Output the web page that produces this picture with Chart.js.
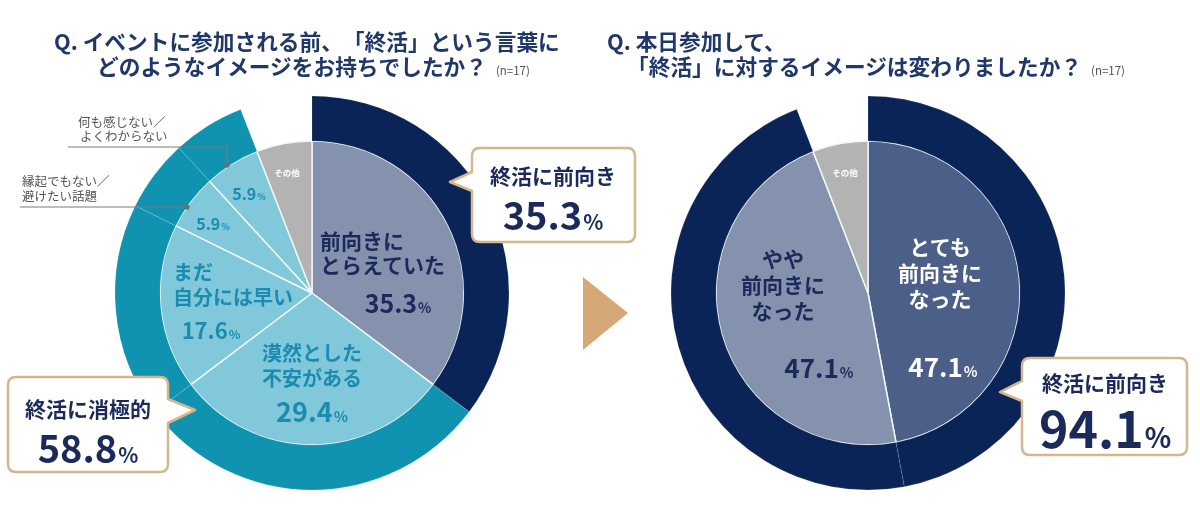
<!DOCTYPE html>
<html lang="ja">
<head>
<meta charset="utf-8">
<script src="https://cdn.jsdelivr.net/npm/chart.js@4.4.1/dist/chart.umd.min.js"></script>
<style>
  html, body { margin: 0; padding: 0; background: #fff; }
  body { width: 1200px; height: 507px; position: relative; overflow: hidden;
         font-family: "Noto Sans CJK JP", "Noto Sans", sans-serif; text-spacing-trim: space-all; }
  canvas { position: absolute; z-index: 1; }
  svg#deco { position: absolute; left: 0; top: 0; z-index: 2; }
  .t { position: absolute; white-space: nowrap; z-index: 3; line-height: 1; }
  .title { color: #1f3869; font-weight: 700; font-size: 21.7px; }
  .n { font-size: 11.5px; font-weight: 400; margin-left: 9px; color: #555; }
  .pct { font-size: 0.55em; margin-left: 1px; }
</style>
</head>
<body>
<canvas id="beforeChart" width="420" height="420" style="left:102px;top:83px"></canvas>
<canvas id="afterChart" width="420" height="420" style="left:658px;top:83px"></canvas>
<svg id="deco" width="1200" height="507"></svg>

<script>
// --- data ---
const beforeLabels = ['前向きにとらえていた', '漠然とした不安がある', 'まだ自分には早い', '縁起でもない／避けたい話題', '何も感じない／よくわからない', 'その他'];
const beforeValues = [35.3, 29.4, 17.6, 5.9, 5.9, 5.9];
const beforeGroupOf = [0, 1, 1, 1, 1, null];
const beforeGroupLabels = ['終活に前向き', '終活に消極的'];
const beforeGroupValues = [35.3, 58.8];

const afterLabels = ['とても前向きになった', 'やや前向きになった', 'その他'];
const afterValues = [47.1, 47.1, 5.9];
const afterGroupOf = [0, 0, null];
const afterGroupLabels = ['終活に前向き'];
const afterGroupValues = [94.1];

const titleBefore = ['Q. イベントに参加される前、「終活」という言葉に', 'どのようなイメージをお持ちでしたか？'];
const titleAfter = ['Q. 本日参加して、', '「終活」に対するイメージは変わりましたか？'];
const sampleNote = '(n=17)';

// --- colours ---
const NAVY = '#0b2457';
const TEAL = '#0f93b1';
const GREYBLUE = '#8592ad';
const LIGHTBLUE = '#80c8da';
const MIDBLUE = '#4b5f88';
const GREY = '#b3b3b3';
const TEXT_NAVY = '#1b2a5a';
const TEXT_TEAL = '#1b8cb0';
const TAN = '#d6b68d';

function makeChart(id, labels, values, groupOf, innerColors, ringColors) {
    return new Chart(document.getElementById(id), {
        type: 'doughnut',
        data: {
            labels: labels,
            datasets: [{
                data: values,
                weight: 45,
                backgroundColor: groupOf.map(g => g === null ? 'rgba(0,0,0,0)' : ringColors[g]),
                borderColor: groupOf.map(g => g === null ? 'rgba(0,0,0,0)' : 'rgba(255,255,255,0.14)'),
                borderWidth: groupOf.map(g => g === null ? 0 : 1)
            }, {
                data: values,
                weight: 152,
                backgroundColor: innerColors,
                borderColor: '#eef8fb',
                borderWidth: 1.5
            }]
        },
        options: {
            responsive: false,
            animation: false,
            events: [],
            radius: 197,
            cutout: 0,
            layout: { padding: 0 },
            plugins: { legend: { display: false }, tooltip: { enabled: false } }
        }
    });
}

makeChart('beforeChart', beforeLabels, beforeValues, beforeGroupOf,
    [GREYBLUE, LIGHTBLUE, LIGHTBLUE, LIGHTBLUE, LIGHTBLUE, GREY], [NAVY, TEAL]);
makeChart('afterChart', afterLabels, afterValues, afterGroupOf,
    [MIDBLUE, GREYBLUE, GREY], [NAVY]);

// --- text helpers ---
const pctHtml = v => `${v.toFixed(1)}<span class="pct">%</span>`;

function put(html, x, y, style, align) {
    const el = document.createElement('div');
    el.className = 't';
    el.innerHTML = html;
    Object.assign(el.style, style || {});
    el.style.left = x + 'px';
    el.style.top = y + 'px';
    const tx = align === 'left' ? '0' : '-50%';
    el.style.transform = `translate(${tx}, -50%)`;
    document.body.appendChild(el);
    return el;
}

// titles
put(titleBefore[0], 54, 41, {}, 'left').classList.add('title');
put(titleBefore[1] + `<span class="n">${sampleNote}</span>`, 97, 66, {}, 'left').classList.add('title');
put(titleAfter[0], 607, 41, {}, 'left').classList.add('title');
put(titleAfter[1] + `<span class="n">${sampleNote}</span>`, 627, 66, {}, 'left').classList.add('title');

// slice labels, left chart
const bold = (size, color) => ({ fontSize: size + 'px', fontWeight: 700, color: color });
put('前向きに', 320, 240, bold(21, TEXT_NAVY), 'left');
put('とらえていた', 320, 264, bold(21, TEXT_NAVY), 'left');
put(pctHtml(beforeValues[0]), 398, 302, bold(25, TEXT_NAVY));
put('漠然とした', 312, 353, bold(20, TEXT_TEAL));
put('不安がある', 312, 378, bold(20, TEXT_TEAL));
put(pctHtml(beforeValues[1]), 312, 410, bold(27, TEXT_TEAL));
put('まだ', 173, 272, bold(20, TEXT_TEAL), 'left');
put('自分には早い', 173, 297, bold(20, TEXT_TEAL), 'left');
put(pctHtml(beforeValues[2]), 211, 329, bold(22, TEXT_TEAL));
put(pctHtml(beforeValues[3]), 213, 223, bold(16, TEXT_TEAL));
put(pctHtml(beforeValues[4]), 249, 193, bold(16, TEXT_TEAL));
put('その他', 287, 172, bold(8.5, '#ffffff'));

// side labels with leader lines
const side = { fontSize: '12.5px', color: '#555', fontWeight: 400 };
put('何も感じない／', 78, 122, side, 'left');
put('よくわからない', 80, 136, side, 'left');
put('縁起でもない／', 22, 181, side, 'left');
put('避けたい話題', 22, 196, side, 'left');

// slice labels, right chart
put('とても', 940, 246, bold(21, '#ffffff'));
put('前向きに', 940, 272, bold(21, '#ffffff'));
put('なった', 940, 298, bold(21, '#ffffff'));
put(pctHtml(afterValues[0]), 943, 366, bold(26, '#ffffff'));
put('やや', 783, 258, bold(21, TEXT_NAVY));
put('前向きに', 783, 284, bold(21, TEXT_NAVY));
put('なった', 783, 310, bold(21, TEXT_NAVY));
put(pctHtml(afterValues[1]), 819, 367, bold(26, TEXT_NAVY));
put('その他', 845, 172, bold(8.5, '#ffffff'));

// callout texts
const callHead = { fontSize: '21px', fontWeight: 700, color: TEXT_NAVY };
const callNum = size => ({ fontSize: size + 'px', fontWeight: 700, color: TEXT_NAVY });
put(beforeGroupLabels[0], 553, 175, callHead);
put(pctHtml(beforeGroupValues[0]), 553, 214, callNum(38));
put(beforeGroupLabels[1], 88, 408, callHead);
put(pctHtml(beforeGroupValues[1]), 88, 447, callNum(38));
put(afterGroupLabels[0], 1105, 382, callHead);
put(pctHtml(afterGroupValues[0]), 1105, 426, callNum(50));

// --- shapes: callouts, arrow, leader lines ---
function callout(x0, y0, x1, y1, side, pa, pb, tx, ty) {
    const r = 8;
    let d = `M${x0 + r},${y0} H${x1 - r} Q${x1},${y0} ${x1},${y0 + r} `;
    if (side === 'right') d += `V${pa} L${tx},${ty} L${x1},${pb} `;
    d += `V${y1 - r} Q${x1},${y1} ${x1 - r},${y1} H${x0 + r} Q${x0},${y1} ${x0},${y1 - r} `;
    if (side === 'left') d += `V${pb} L${tx},${ty} L${x0},${pa} `;
    d += `V${y0 + r} Q${x0},${y0} ${x0 + r},${y0} Z`;
    return `<path d="${d}" fill="#fff" stroke="${TAN}" stroke-width="2.5" stroke-linejoin="round"/>`;
}

const svg = document.getElementById('deco');
svg.innerHTML =
    callout(472, 148, 635, 242, 'left', 172, 191, 450, 182) +
    callout(8, 377, 168, 472, 'right', 399, 423, 195, 410) +
    callout(1022, 358, 1187, 455, 'left', 381, 401, 1000, 392) +
    `<polygon points="583,277 583,350 628,313" fill="#d5a878"/>` +
    `<polyline points="68,147 227,147 227,165" fill="none" stroke="#7a7a7a" stroke-width="1.2"/>` +
    `<circle cx="227" cy="165" r="2.6" fill="#6d6d7a"/>` +
    `<polyline points="20,207 187,207" fill="none" stroke="#7a7a7a" stroke-width="1.2"/>` +
    `<circle cx="187" cy="207" r="2.6" fill="#6d6d7a"/>`;
</script>
</body>
</html>
